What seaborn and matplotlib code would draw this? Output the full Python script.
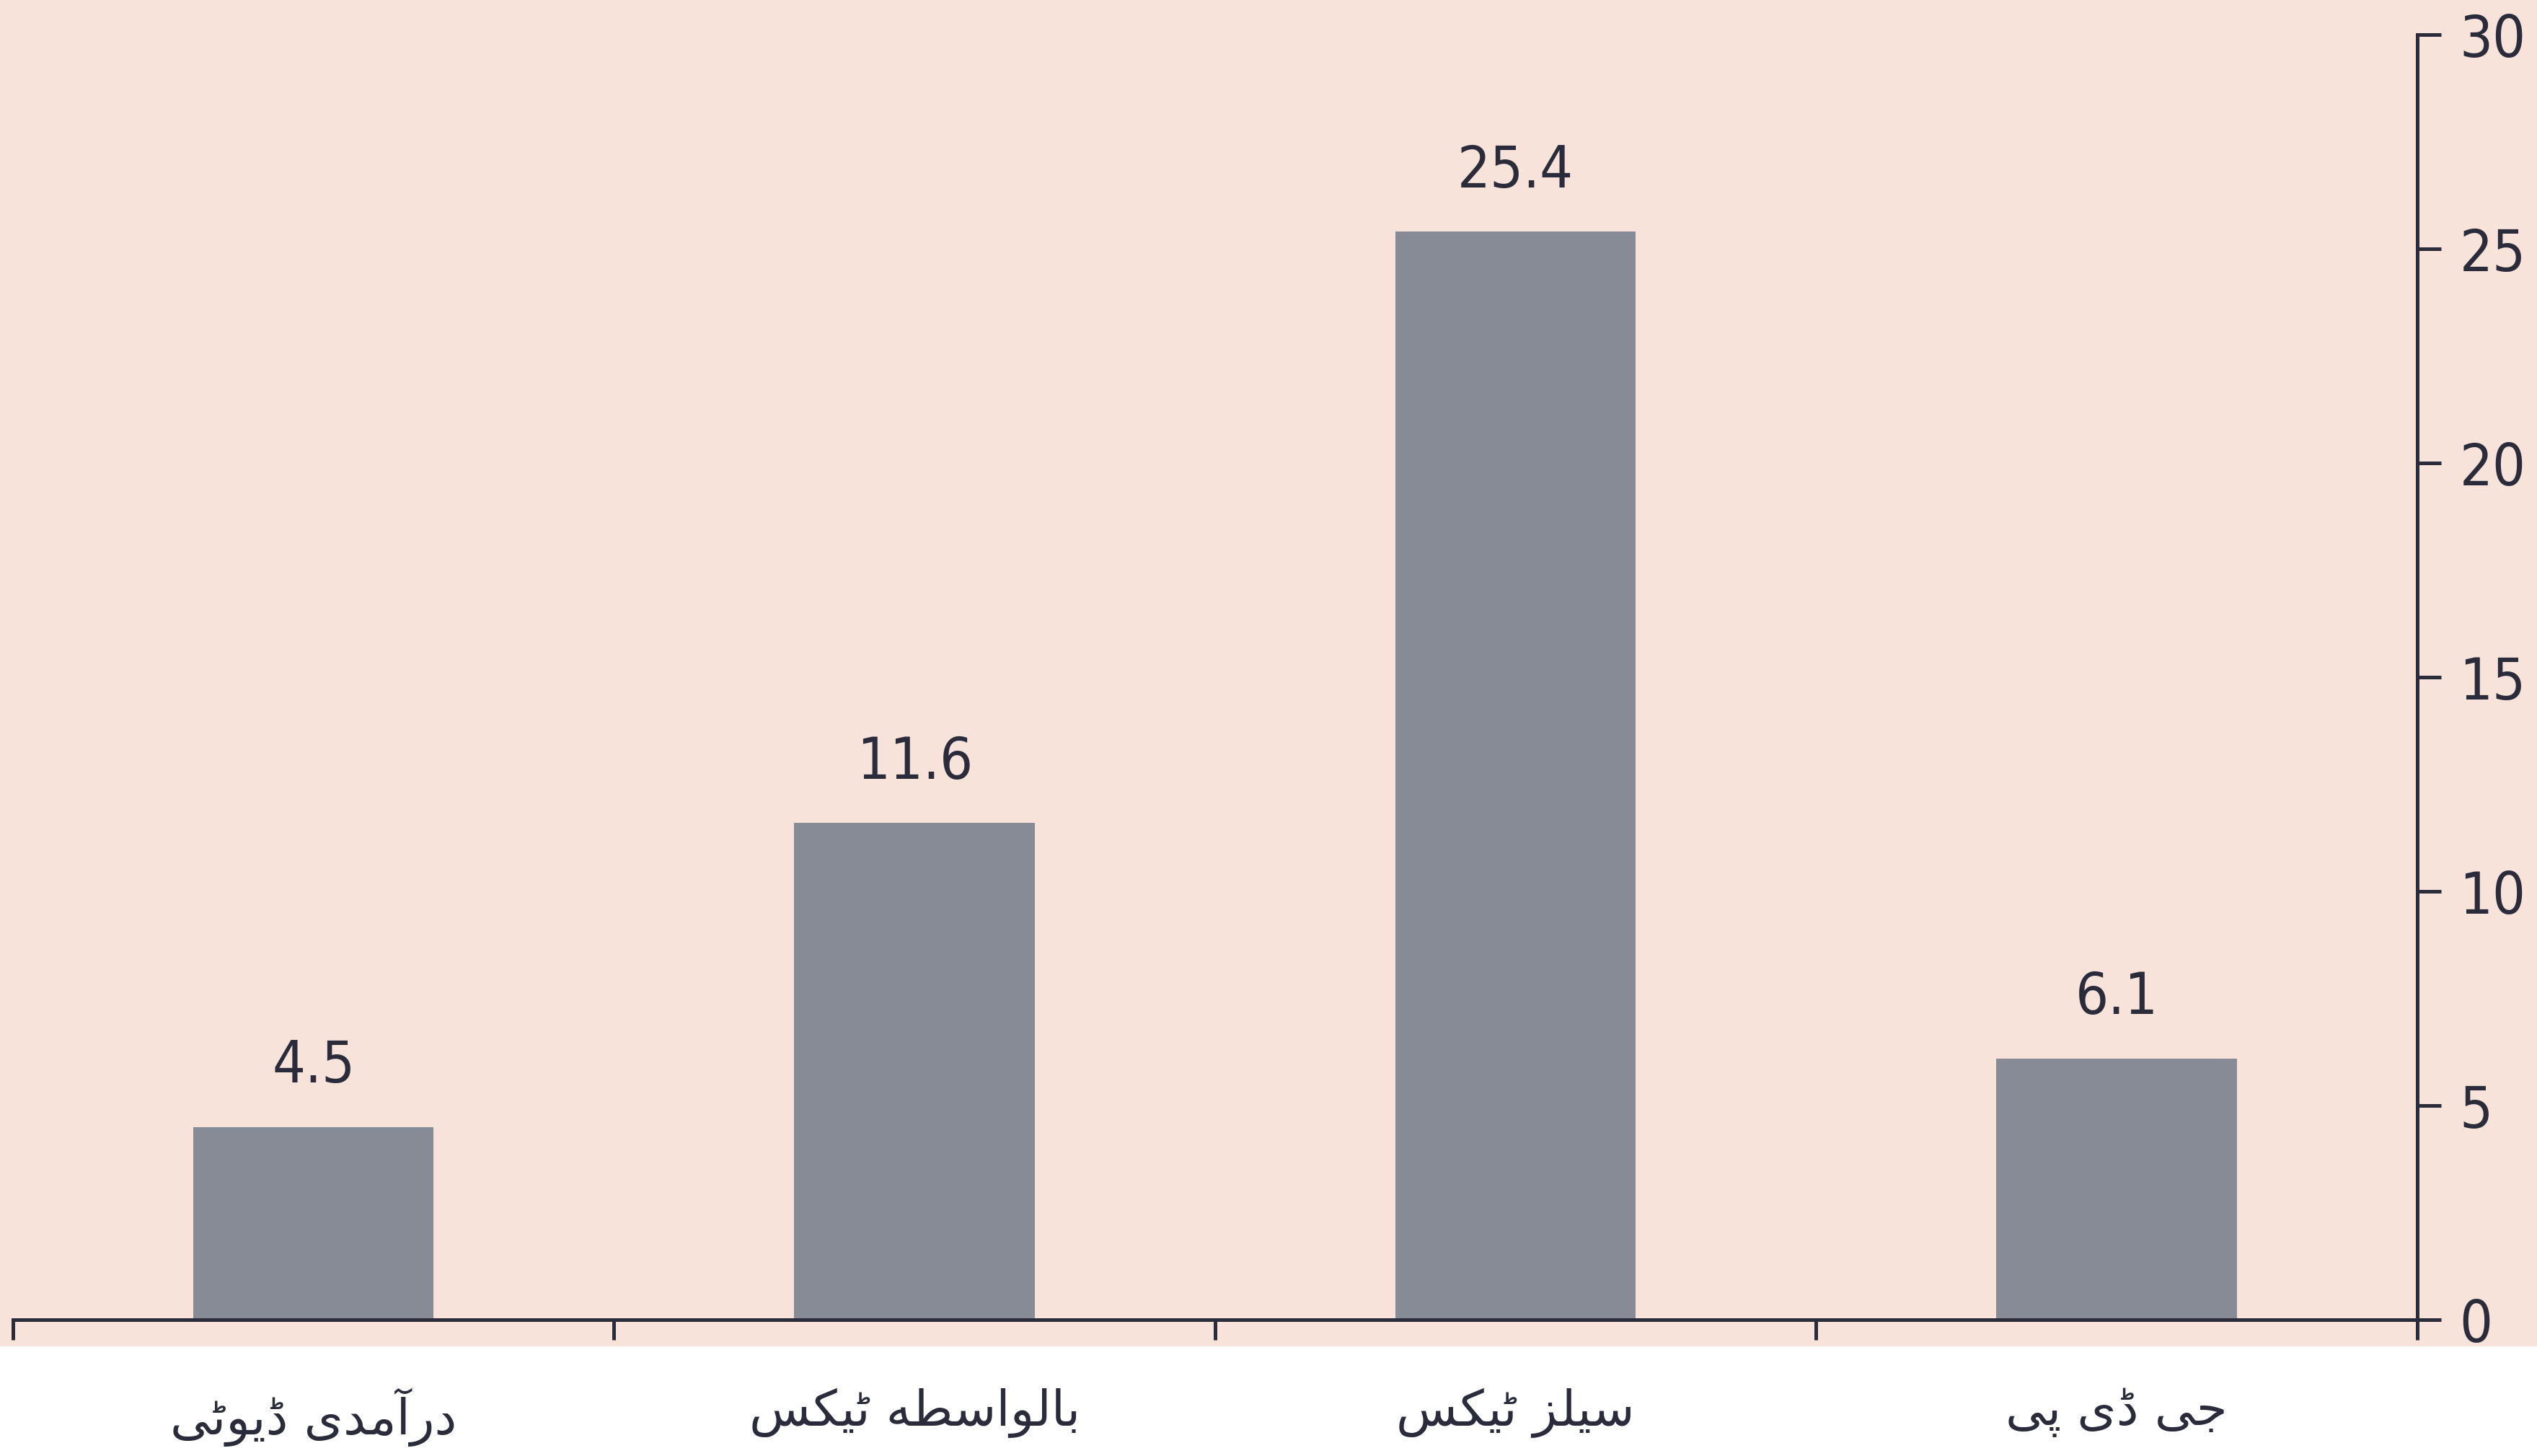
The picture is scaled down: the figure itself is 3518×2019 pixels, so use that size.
import pandas as pd
import matplotlib
matplotlib.use('Agg')
import matplotlib.pyplot as plt
import seaborn as sns
from matplotlib import font_manager, ft2font
from matplotlib.patches import Rectangle

# data
categories = ['درآمدی ڈیوٹی', 'بالواسطہ ٹیکس', 'سیلز ٹیکس', 'جی ڈی پی']
values = [4.5, 11.6, 25.4, 6.1]
y_ticks = [0, 5, 10, 15, 20, 25, 30]

PINK = '#f8e3da'
BAR = '#878b96'
INK = '#2a2c3c'

# matplotlib does no Arabic shaping, so pick the presentation forms by hand
# (isolated, final, initial, medial)
FORMS = {
    'ا': (0xFE8D, 0xFE8E), 'آ': (0xFE81, 0xFE82),
    'د': (0xFEA9, 0xFEAA), 'ڈ': (0xFB88, 0xFB89),
    'ر': (0xFEAD, 0xFEAE), 'ز': (0xFEAF, 0xFEB0),
    'و': (0xFEED, 0xFEEE),
    'ب': (0xFE8F, 0xFE90, 0xFE91, 0xFE92), 'ج': (0xFE9D, 0xFE9E, 0xFE9F, 0xFEA0),
    'س': (0xFEB1, 0xFEB2, 0xFEB3, 0xFEB4), 'ط': (0xFEC1, 0xFEC2, 0xFEC3, 0xFEC4),
    'ل': (0xFEDD, 0xFEDE, 0xFEDF, 0xFEE0), 'م': (0xFEE1, 0xFEE2, 0xFEE3, 0xFEE4),
    'ٹ': (0xFB66, 0xFB67, 0xFB68, 0xFB69), 'پ': (0xFB56, 0xFB57, 0xFB58, 0xFB59),
    'ک': (0xFB8E, 0xFB8F, 0xFB90, 0xFB91),
    # DejaVu has no heh goal, draw it with the heh forms
    'ہ': (0xFEE9, 0xFEEA, 0xFEEB, 0xFEEC),
    'ی': (0xFBFC, 0xFBFD, 0xFBFE, 0xFBFF),
}
cmap = ft2font.FT2Font(font_manager.findfont('DejaVu Sans')).get_charmap()


def shape_urdu(text):
    chars = list(text)
    out = []
    for i, c in enumerate(chars):
        if c not in FORMS:
            out.append(c)
            continue
        prev = chars[i - 1] if i > 0 else None
        nxt = chars[i + 1] if i + 1 < len(chars) else None
        join_prev = prev in FORMS and len(FORMS[prev]) == 4
        join_next = nxt in FORMS and len(FORMS[c]) == 4
        if join_prev and join_next:
            idx = 3
        elif join_prev:
            idx = 1
        elif join_next:
            idx = 2
        else:
            idx = 0
        code = FORMS[c][idx]
        out.append(chr(code) if code in cmap else c)
    return ''.join(reversed(out))


sns.set_style('white')
plt.rcParams['font.family'] = ['DejaVu Sans']
plt.rcParams['font.stretch'] = 'condensed'

fig = plt.figure(figsize=(3518 / 200, 2019 / 200), dpi=200, facecolor='white')
# pink panel behind the plot
fig.patches.append(Rectangle((0, 0.0755), 1, 1 - 0.0755, transform=fig.transFigure,
                             facecolor=PINK, edgecolor='none', zorder=-10))

ax = fig.add_axes([0.0051, 0.0936, 0.9477, 0.8826])
ax.set_facecolor('none')

df = pd.DataFrame({'cat': categories, 'val': values})
sns.barplot(data=df, x='cat', y='val', color=BAR, saturation=1, width=0.4,
            edgecolor='none', ax=ax)

ax.bar_label(ax.containers[0], labels=[f'{v:.1f}' for v in values],
             padding=16, fontsize=29, color=INK)

ax.set_xlim(-0.5, 3.5)
ax.set_ylim(0, 30)

# spines
for s in ['top', 'left']:
    ax.spines[s].set_visible(False)
for s in ['right', 'bottom']:
    ax.spines[s].set_color(INK)
    ax.spines[s].set_linewidth(1.8)
    ax.spines[s].set_zorder(5)

# y axis on the right
ax.yaxis.tick_right()
ax.set_yticks(y_ticks)
ax.set_yticklabels([str(t) for t in y_ticks])
ax.tick_params(axis='y', direction='out', length=12, width=1.8, color=INK,
               labelsize=29, labelcolor=INK, pad=9)

# x axis: tick marks at the category boundaries, labels at the centres
ax.set_xticks([-0.5, 0.5, 1.5, 2.5, 3.5])
ax.set_xticklabels([])
ax.set_xticks(range(len(categories)), minor=True)
ax.set_xticklabels([shape_urdu(c) for c in categories], minor=True,
                   fontsize=25, color=INK, family='DejaVu Sans', fontstretch='normal')
ax.tick_params(axis='x', which='major', bottom=True, direction='out', length=10,
               width=1.8, color=INK)
ax.tick_params(axis='x', which='minor', bottom=True, length=0, pad=34)

ax.set_xlabel('')
ax.set_ylabel('')

fig.savefig('out.png', dpi=200, facecolor='white')
